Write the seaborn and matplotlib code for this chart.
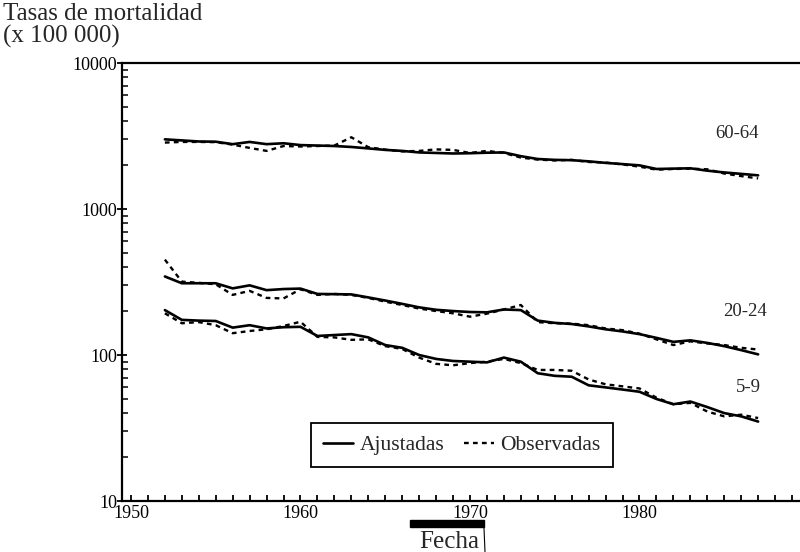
import matplotlib
matplotlib.use("Agg")
import matplotlib.pyplot as plt
import matplotlib.ticker as mticker
from matplotlib.lines import Line2D
from matplotlib.patches import Rectangle
import seaborn as sns
import pandas as pd

years = list(range(1952, 1988))

ajust_60_64 = [3000, 2950, 2900, 2890, 2780, 2880, 2780, 2820, 2740, 2720, 2700, 2660,
               2600, 2540, 2500, 2440, 2420, 2400, 2410, 2430, 2440, 2300, 2200, 2170,
               2160, 2120, 2070, 2030, 1990, 1880, 1890, 1900, 1830, 1780, 1740, 1700]
obs_60_64 = [2850, 2880, 2880, 2870, 2760, 2620, 2500, 2700, 2680, 2700, 2720, 3100,
             2650, 2550, 2480, 2500, 2560, 2540, 2420, 2500, 2420, 2250, 2180, 2150,
             2170, 2100, 2080, 2020, 1950, 1860, 1880, 1890, 1870, 1750, 1680, 1620]

ajust_20_24 = [345, 310, 310, 310, 286, 300, 278, 283, 285, 262, 261, 260,
               248, 236, 224, 212, 204, 200, 197, 196, 205, 203, 172, 166,
               163, 157, 150, 145, 139, 131, 123, 126, 121, 115, 108, 101]
obs_20_24 = [450, 318, 312, 305, 258, 275, 246, 244, 282, 258, 262, 258,
             246, 232, 220, 208, 200, 193, 183, 192, 205, 220, 168, 165,
             164, 160, 152, 148, 140, 128, 117, 124, 120, 117, 112, 109]

ajust_5_9 = [203, 174, 172, 171, 154, 160, 152, 155, 156, 135, 137, 139,
             132, 117, 112, 100, 94, 91, 90, 89, 96, 90, 75, 72,
             71, 62, 60, 58, 56, 50, 46, 48, 44, 40, 38, 35]
obs_5_9 = [193, 165, 168, 160, 141, 146, 150, 158, 169, 133, 132, 127,
           128, 115, 110, 96, 87, 85, 88, 90, 94, 88, 79, 79,
           78, 68, 63, 61, 59, 51, 46, 47, 41, 38, 39, 37]

group_labels = ["60-64", "20-24", "5-9"]
legend_labels = ["Ajustadas", "Observadas"]
x_ticks = [1950, 1960, 1970, 1980]
y_ticks = [10, 100, 1000, 10000]

sns.set_theme(style="ticks")
plt.rcParams["font.family"] = ["Liberation Serif", "DejaVu Serif"]

fig = plt.figure(figsize=(8, 5.52), dpi=100)
ax = fig.add_axes([122 / 800, 1 - 501 / 552, 1 - 122 / 800, (501 - 63) / 552])

solid_kw = dict(color="black", linewidth=1.9, linestyle="-")
dash_kw = dict(color="black", linewidth=1.7, linestyle=(0, (2.0, 1.8)))

for fit, obs in [(ajust_60_64, obs_60_64), (ajust_20_24, obs_20_24), (ajust_5_9, obs_5_9)]:
    df = pd.DataFrame({"year": years, "fit": fit, "obs": obs})
    sns.lineplot(data=df, x="year", y="obs", ax=ax, **dash_kw)
    sns.lineplot(data=df, x="year", y="fit", ax=ax, **solid_kw)

ax.set_yscale("log")
ax.set_xlim(1949.47, 1989.47)
ax.set_ylim(10, 10000)
ax.set_xlabel("")
ax.set_ylabel("")

ax.set_xticks(x_ticks)
ax.set_xticklabels([str(t) for t in x_ticks])
ax.xaxis.set_minor_locator(mticker.MultipleLocator(1))
ax.set_yticks(y_ticks)
ax.set_yticklabels([str(t) for t in y_ticks])
ax.yaxis.set_minor_locator(mticker.LogLocator(base=10, subs=range(2, 10)))
ax.yaxis.set_minor_formatter(mticker.NullFormatter())

ax.tick_params(axis="x", which="both", direction="in", length=4, width=1.3,
               labelsize=13, pad=3, colors="black")
ax.tick_params(axis="y", which="major", direction="inout", length=7, width=1.3,
               labelsize=13, pad=0, colors="black")
ax.tick_params(axis="y", which="minor", direction="in", length=4, width=1.3)

for side in ["left", "bottom", "top"]:
    ax.spines[side].set_color("black")
    ax.spines[side].set_linewidth(1.6)
ax.spines["right"].set_visible(False)

# curve labels
ax.text(1985.75, 3300, group_labels[0], fontsize=13.5, ha="center", va="center")
ax.text(1986.2, 200, group_labels[1], fontsize=13.5, ha="center", va="center")
ax.text(1986.4, 60, group_labels[2], fontsize=13.5, ha="center", va="center")

handles = [Line2D([0], [0], **solid_kw), Line2D([0], [0], **dash_kw)]
leg = ax.legend(handles, legend_labels, loc="center", bbox_to_anchor=(0.5015, 0.127),
                ncol=2, fontsize=15.5, frameon=True, fancybox=False, framealpha=1,
                edgecolor="black", borderpad=0.55, handlelength=1.4, handletextpad=0.3,
                columnspacing=0.9)
leg.get_frame().set_linewidth(1.3)

fig.text(3 / 800, 1 - 3 / 552, "Tasas de mortalidad\n(x 100 000)", fontsize=18,
         ha="left", va="top", linespacing=1.0)

# x-axis title with bar
fig.patches.append(Rectangle((410 / 800, 1 - 527 / 552), 74 / 800, 7 / 552,
                             transform=fig.transFigure, color="black"))
fig.text(449 / 800, 1 - 548 / 552, "Fecha", fontsize=18, ha="center", va="baseline")
fig.lines.append(Line2D([484 / 800, 485 / 800], [1 - 528 / 552, 0.0],
                        transform=fig.transFigure, color="black", linewidth=0.8))

fig.savefig("out.png", dpi=100)
